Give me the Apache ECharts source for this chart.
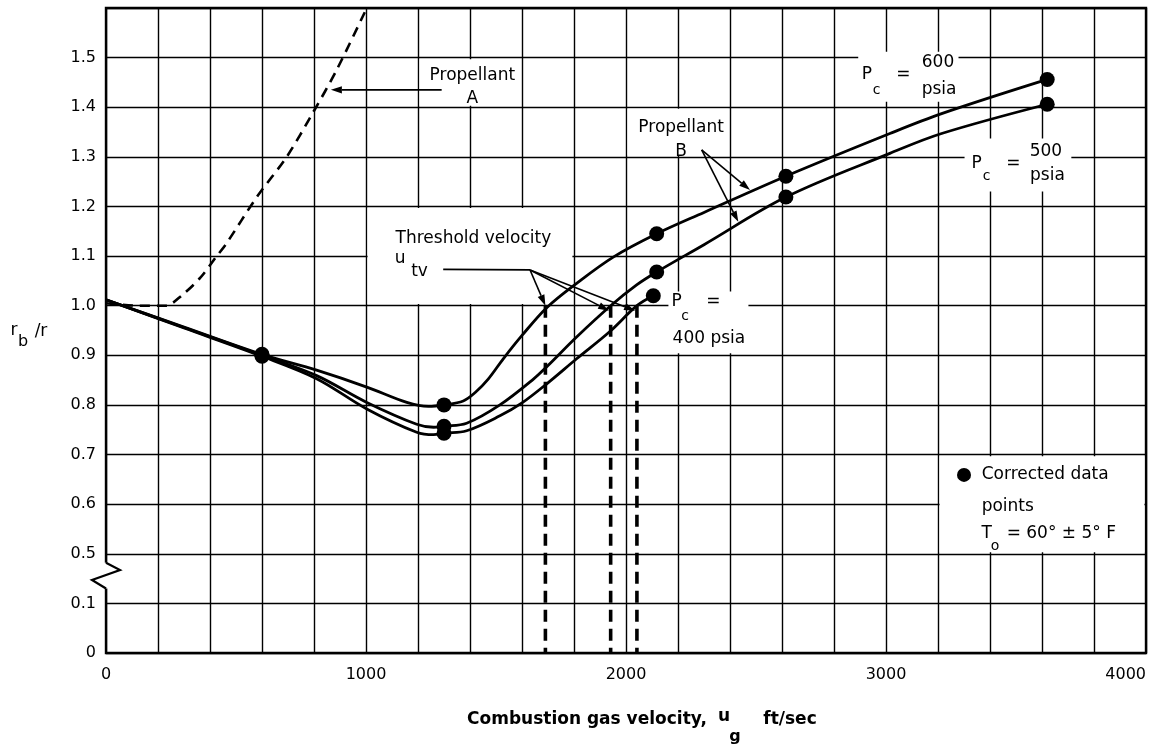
<!DOCTYPE html>
<html>
<head>
<meta charset="utf-8">
<script src="https://cdn.jsdelivr.net/npm/echarts@6/dist/echarts.min.js"></script>
<style>html,body{margin:0;padding:0;background:#fff}#c{width:1161px;height:749px}</style>
</head>
<body>
<div id="c"></div>
<script>
// ---------------- data ----------------
const xTickLabels = ['0', '1000', '2000', '3000', '4000'];
const yTickLabels = ['0', '0.1', '0.5', '0.6', '0.7', '0.8', '0.9', '1.0', '1.1', '1.2', '1.3', '1.4', '1.5', ''];

// Propellant B, Pc = 600 psia
const b600X = [0, 300, 600, 810, 1003, 1157, 1240, 1300, 1374, 1420, 1470, 1528, 1600, 1695, 1810, 1951, 2118, 2300, 2615, 3015, 3214, 3620];
const b600Y = [1.012, 0.957, 0.902, 0.870, 0.836, 0.805, 0.797, 0.800, 0.808, 0.825, 0.852, 0.893, 0.940, 0.996, 1.045, 1.098, 1.145, 1.188, 1.261, 1.347, 1.387, 1.456];
// Propellant B, Pc = 500 psia
const b500X = [0, 300, 600, 810, 1003, 1195, 1260, 1300, 1387, 1515, 1644, 1701, 1810, 1941, 2041, 2118, 2300, 2615, 3015, 3214, 3620];
const b500Y = [1.012, 0.956, 0.900, 0.859, 0.805, 0.761, 0.755, 0.757, 0.763, 0.800, 0.852, 0.880, 0.937, 1.000, 1.042, 1.068, 1.123, 1.219, 1.307, 1.347, 1.406];
// Propellant B, Pc = 400 psia
const b400X = [0, 300, 600, 810, 1003, 1195, 1260, 1300, 1387, 1515, 1600, 1701, 1810, 1938, 2042, 2105];
const b400Y = [1.012, 0.955, 0.898, 0.853, 0.792, 0.745, 0.740, 0.743, 0.748, 0.778, 0.804, 0.845, 0.893, 0.948, 1.000, 1.020];
// Propellant A (dashed)
const aX = [0, 120, 230, 290, 362, 426, 464, 580, 695, 797, 887, 1003];
const aY = [1.005, 1.000, 1.000, 1.020, 1.056, 1.100, 1.126, 1.219, 1.300, 1.390, 1.475, 1.600];
// corrected data points
const d600X = [600, 1300, 2118, 2615, 3620];
const d600Y = [0.902, 0.800, 1.145, 1.261, 1.456];
const d500X = [600, 1300, 2118, 2615, 3620];
const d500Y = [0.900, 0.757, 1.068, 1.219, 1.406];
const d400X = [600, 1300, 2105];
const d400Y = [0.898, 0.743, 1.020];
// threshold velocities
const thrX = [1690, 1941, 2042];
const thrTopY = 1.0;

// ---------------- annotation layout (data coordinates) ----------------
const boxes = [
  [1200, 1.4, 1600, 1.5],
  [2000, 1.3, 2400, 1.4],
  [2887, 1.408, 3285, 1.515],
  [3296, 1.227, 3719, 1.34],
  [2157, 0.901, 2477, 1.032],
  [1000, 1.0, 1800, 1.2],
  [3200, 0.5, 4000, 0.7]
];
const notes = [
  {t: 'Propellant\nA', x: 1409, y: 1.44, lh: 23},
  {t: 'Propellant\nB', x: 2212, y: 1.334, lh: 24},
  {t: 'P', x: 2926, y: 1.465}, {t: 'c', x: 2964, y: 1.433, s: 14}, {t: '=', x: 3067, y: 1.465}, {t: '600', x: 3200, y: 1.489}, {t: 'psia', x: 3204, y: 1.435},
  {t: 'P', x: 3349, y: 1.287}, {t: 'c', x: 3387, y: 1.261, s: 14}, {t: '=', x: 3490, y: 1.287}, {t: '500', x: 3615, y: 1.310}, {t: 'psia', x: 3621, y: 1.263},
  {t: 'P', x: 2195, y: 1.008}, {t: 'c', x: 2227, y: 0.978, s: 14}, {t: '=', x: 2336, y: 1.008}, {t: '400 psia', x: 2319, y: 0.934},
  {t: 'Threshold velocity', x: 1413, y: 1.136},
  {t: 'u', x: 1131, y: 1.094}, {t: 'tv', x: 1206, y: 1.069},
  {t: 'Corrected data', x: 3368, y: 0.659, a: 'left'},
  {t: 'points', x: 3368, y: 0.595, a: 'left'},
  {t: 'T', x: 3387, y: 0.541}, {t: 'o', x: 3419, y: 0.514, s: 14},
  {t: '= 60° ± 5° F', x: 3464, y: 0.541, a: 'left'}
];
const arrows = [
  [[1291, 1.435], [865, 1.435]],
  [[2291, 1.314], [2477, 1.233]],
  [[2291, 1.314], [2432, 1.169]],
  [[1631, 1.072], [1690, 1.0]],
  [[1631, 1.072], [1935, 0.99]],
  [[1631, 1.072], [2035, 0.99]]
];
const plainLines = [[[1297, 1.073], [1631, 1.072]]];
const legendDot = [3300, 0.659];

// ---------------- chart ----------------
// broken y axis: 0..0.1 kept, 0.1..0.5 compressed into one grid step, above 0.5 shifted
function disp(y) {
  if (y <= 0.1) return y;
  if (y >= 0.5) return y - 0.3;
  return 0.1 + (y - 0.1) * 0.25;
}
const pts = (xs, ys) => xs.map((x, i) => [x, disp(ys[i])]);
const FONT = '"DejaVu Sans", sans-serif';

const chart = echarts.init(document.getElementById('c'));
const series = [];

series.push({
  type: 'custom', z: 1, silent: true, clip: false,
  data: boxes.map(b => [b[0], disp(b[1]), b[2], disp(b[3])]),
  encode: {x: [0, 2], y: [1, 3]},
  renderItem: (params, api) => {
    const a = api.coord([api.value(0), api.value(3)]);
    const b = api.coord([api.value(2), api.value(1)]);
    return {type: 'rect', shape: {x: a[0] + 1.6, y: a[1] + 1.6, width: b[0] - a[0] - 3.2, height: b[1] - a[1] - 3.2}, style: {fill: '#fff'}};
  }
});

[[b600X, b600Y], [b500X, b500Y], [b400X, b400Y]].forEach(([xs, ys]) => {
  series.push({type: 'line', data: pts(xs, ys), smooth: 0.35, symbol: 'none', z: 3,
    lineStyle: {color: '#000', width: 2.8}});
});
series.push({type: 'line', data: pts(aX, aY), smooth: 0.3, symbol: 'none', z: 3,
  lineStyle: {color: '#000', width: 2.6, type: [10, 7]}});
thrX.forEach(x => {
  series.push({type: 'line', data: [[x, disp(thrTopY)], [x, 0]], symbol: 'none', z: 3,
    lineStyle: {color: '#000', width: 3.6, type: [12, 7]}});
});
[[d600X, d600Y], [d500X, d500Y], [d400X, d400Y]].forEach(([xs, ys]) => {
  series.push({type: 'scatter', data: pts(xs, ys), symbol: 'circle', symbolSize: 15, z: 4,
    itemStyle: {color: '#000', opacity: 1}});
});
// axis break zigzag
series.push({
  type: 'custom', z: 10, silent: true, clip: false,
  data: [[0, 0.15]],
  renderItem: (params, api) => {
    const top = api.coord([0, 0.182]);
    const m1 = api.coord([0, 0.167]);
    const m2 = api.coord([0, 0.147]);
    const bot = api.coord([0, 0.130]);
    const x0 = top[0];
    return {type: 'group', children: [
      {type: 'rect', shape: {x: x0 - 4, y: top[1], width: 8, height: bot[1] - top[1]}, style: {fill: '#fff'}},
      {type: 'polyline', shape: {points: [[x0, top[1]], [x0 + 14, m1[1]], [x0 - 14, m2[1]], [x0, bot[1]]]},
        style: {stroke: '#000', lineWidth: 2.2, fill: null}}
    ]};
  }
});

chart.setOption({
  animation: false,
  backgroundColor: '#fff',
  grid: {left: 106, right: 15, top: 8, bottom: 96, show: true, borderColor: '#000', borderWidth: 2.4, backgroundColor: 'transparent'},
  xAxis: {
    type: 'value', min: 0, max: 4000, interval: 200,
    axisLine: {show: false}, axisTick: {show: false},
    splitLine: {show: true, lineStyle: {color: '#000', width: 1.4}},
    axisLabel: {
      color: '#000', fontFamily: FONT, fontSize: 16, margin: 14,
      showMinLabel: true, showMaxLabel: true, alignMaxLabel: 'right',
      formatter: v => (Math.round(v) % 1000 === 0 ? xTickLabels[Math.round(v) / 1000] : '')
    }
  },
  yAxis: {
    type: 'value', min: 0, max: 1.3, interval: 0.1,
    axisLine: {show: false}, axisTick: {show: false},
    splitLine: {show: true, lineStyle: {color: '#000', width: 1.4}},
    axisLabel: {
      color: '#000', fontFamily: FONT, fontSize: 16, margin: 10,
      formatter: v => yTickLabels[Math.round(v * 10)] || ''
    }
  },
  series: series
});

// ---------------- annotations ----------------
const P = (x, y) => chart.convertToPixel({gridIndex: 0}, [x, disp(y)]);
const g = [];
function txt(t, x, y, opt) {
  opt = opt || {};
  g.push({type: 'text', z: 20, x: x, y: y, style: {
    text: t, fill: '#000', font: (opt.w || 'normal') + ' ' + (opt.s || 17) + 'px ' + FONT,
    align: opt.a || 'center', textAlign: opt.a || 'center',
    verticalAlign: 'middle', textVerticalAlign: 'middle', lineHeight: opt.lh || 20
  }});
}
notes.forEach(n => { const p = P(n.x, n.y); txt(n.t, p[0], p[1], {s: n.s, a: n.a, lh: n.lh}); });
function arrow(a, b) {
  const dx = b[0] - a[0], dy = b[1] - a[1], L = Math.hypot(dx, dy), ux = dx / L, uy = dy / L;
  const hl = 11, hw = 3.6;
  const base = [b[0] - ux * hl, b[1] - uy * hl];
  g.push({type: 'line', z: 20, shape: {x1: a[0], y1: a[1], x2: base[0], y2: base[1]}, style: {stroke: '#000', lineWidth: 1.6}});
  g.push({type: 'polygon', z: 20, shape: {points: [b, [base[0] - uy * hw, base[1] + ux * hw], [base[0] + uy * hw, base[1] - ux * hw]]}, style: {fill: '#000'}});
}
arrows.forEach(([a, b]) => arrow(P(a[0], a[1]), P(b[0], b[1])));
plainLines.forEach(([a, b]) => {
  const p1 = P(a[0], a[1]), p2 = P(b[0], b[1]);
  g.push({type: 'line', z: 20, shape: {x1: p1[0], y1: p1[1], x2: p2[0], y2: p2[1]}, style: {stroke: '#000', lineWidth: 1.8}});
});
const ld = P(legendDot[0], legendDot[1]);
g.push({type: 'circle', z: 20, shape: {cx: ld[0], cy: ld[1], r: 7}, style: {fill: '#000'}});

// axis titles
txt('Combustion gas velocity,', 587, 720, {w: 'bold', s: 17});
txt('u', 724, 717, {w: 'bold', s: 17});
txt('g', 735, 737, {w: 'bold', s: 16});
txt('ft/sec', 790, 720, {w: 'bold', s: 17});
txt('r', 14, 331, {s: 17});
txt('b', 23, 342, {s: 16});
txt('/r', 41, 332, {s: 17});

chart.setOption({graphic: {elements: g}});
</script>
</body>
</html>
